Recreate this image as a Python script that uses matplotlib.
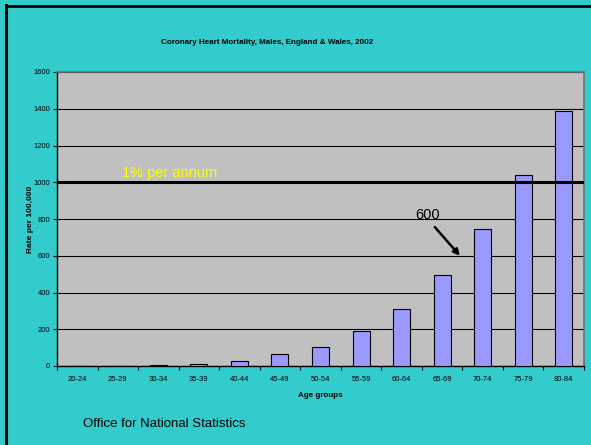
import matplotlib
matplotlib.use("Agg")
import matplotlib.pyplot as plt
from matplotlib.lines import Line2D
import numpy as np

plt.rcParams['font.family'] = ['Liberation Sans', 'DejaVu Sans']

categories = ["20-24", "25-29", "30-34", "35-39", "40-44", "45-49", "50-54",
              "55-59", "60-64", "65-69", "70-74", "75-79", "80-84"]
rates = [0.5, 1, 4, 10, 27, 64, 103, 190, 310, 495, 744, 1039, 1388]
y_ticks = [0, 200, 400, 600, 800, 1000, 1200, 1400, 1600]
threshold = 1000
annot_value = 600

W, H = 591, 445
fig = plt.figure(figsize=(W / 100, H / 100), dpi=100)
fig.patch.set_facecolor('#33CCCC')

ax = fig.add_axes([57 / W, 1 - 366 / H, (584 - 57) / W, (366 - 72) / H])
ax.set_facecolor('#C0C0C0')

x = np.arange(len(categories))
ax.bar(x, rates, width=0.42, color='#9999FF', edgecolor='black', linewidth=0.8, zorder=3)

ax.set_xlim(-0.5, len(categories) - 0.5)
ax.set_ylim(0, 1600)
ax.set_yticks(y_ticks)
ax.set_yticklabels([str(v) for v in y_ticks], fontsize=5.5)
ax.yaxis.grid(True, color='black', linewidth=0.8, zorder=1)
ax.set_axisbelow(True)

ax.set_xticks(x)
ax.set_xticklabels(categories, fontsize=5.5)
ax.tick_params(axis='x', which='major', length=0, pad=7.5)
ax.set_xticks(np.arange(-0.5, len(categories)), minor=True)
ax.tick_params(axis='x', which='minor', length=3, width=0.8, direction='out')
ax.tick_params(axis='y', length=3, width=0.8, pad=2)

for s in ['top', 'right']:
    ax.spines[s].set_color('#707070')
    ax.spines[s].set_linewidth(1.2)
for s in ['left', 'bottom']:
    ax.spines[s].set_color('black')
    ax.spines[s].set_linewidth(1.0)

ax.axhline(threshold, color='black', linewidth=2.2, zorder=4)
ax.text(1.10, threshold + 14, "1% per annum", color='#FFFF00', fontsize=10.5,
        ha='left', va='bottom', zorder=5)

ax.text(8.65, 822, str(annot_value), fontsize=10.5, ha='center', va='center', zorder=5)
ax.annotate("", xy=(9.44, annot_value), xytext=(8.82, 756), textcoords='data',
            arrowprops=dict(arrowstyle='-|>', color='black', lw=1.8,
                            mutation_scale=9, shrinkA=0, shrinkB=0),
            zorder=5)

ax.set_xlabel("Age groups", fontsize=5.8, fontweight='bold', labelpad=6)
ax.set_ylabel("Rate per 100,000", fontsize=6, fontweight='bold', labelpad=-0.5)

fig.text(267 / W, 1 - 42 / H, "Coronary Heart Mortality, Males, England & Wales, 2002",
         fontsize=5.8, fontweight='bold', ha='center', va='center')
fig.text(83 / W, 1 - 424 / H, "Office for National Statistics",
         fontsize=9.5, ha='left', va='center')

fig.add_artist(Line2D([6 / W, 6 / W], [0, 1 - 5 / H], color='black', linewidth=2.2,
                      transform=fig.transFigure))
fig.add_artist(Line2D([6 / W, 1], [1 - 5.5 / H, 1 - 5.5 / H], color='black', linewidth=2.0,
                      transform=fig.transFigure))

fig.savefig("out.png", dpi=100, facecolor=fig.get_facecolor())
